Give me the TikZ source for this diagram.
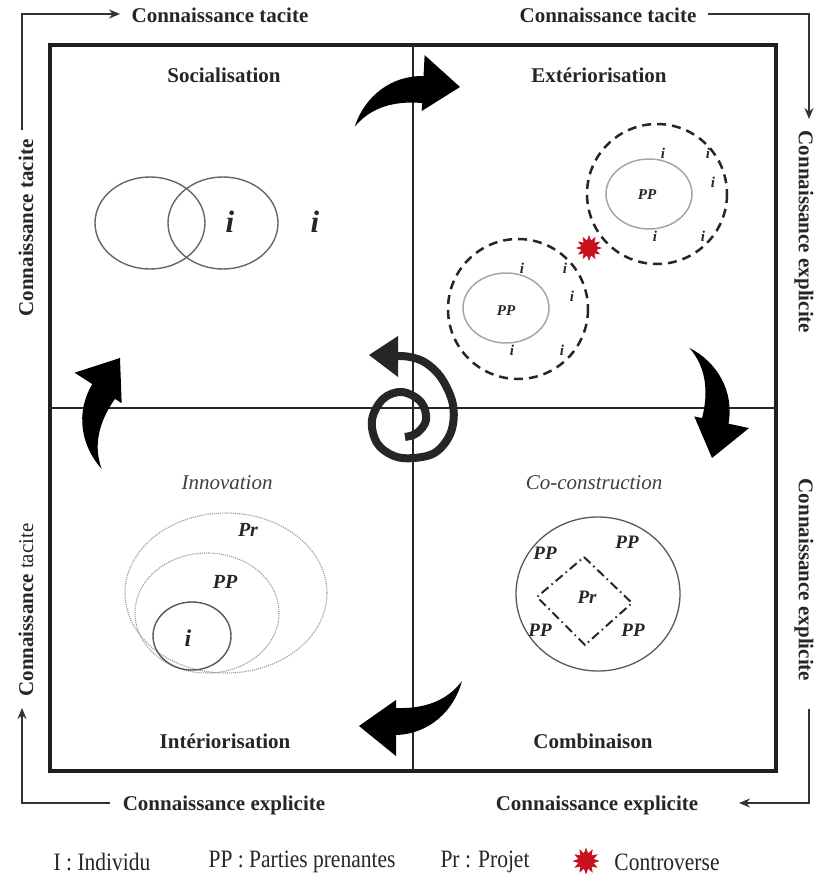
\documentclass[tikz,border=0pt]{standalone}
\usepackage{fontspec}
\setmainfont{Liberation Serif}
\usetikzlibrary{arrows.meta,shapes.geometric}
\definecolor{ctrred}{HTML}{C8101E}
\tikzset{
  framel/.style={line width=3.2pt, draw=black!88},
  divl/.style={line width=2.8pt, draw=black!85},
  sidearr/.style={line width=1.8pt, draw=black!80, -{Stealth[length=11pt,width=9pt]}},
  lbl/.style={font=\fontsize{21}{24}\selectfont\bfseries, text=black!85, inner sep=0pt},
  itl/.style={font=\fontsize{21}{24}\selectfont\itshape, text=black!75, inner sep=0pt},
  bi/.style={font=\bfseries\itshape, text=black!85, inner sep=0pt},
  leg/.style={font=\fontsize{25}{28}\selectfont, text=black!85, inner sep=0pt},
  dashc/.style={draw=black!85, line width=2.5pt, dash pattern=on 9pt off 6pt},
  inell/.style={draw=black!35, line width=1.5pt},
  gcirc/.style={draw=black!60, line width=1.4pt},
  dotell/.style={draw=black!40, line width=1.1pt, densely dotted},
  spiralst/.style={draw=black!85, line width=8pt},
  ctrstar/.style={star, star points=12, star point ratio=1.7, fill=ctrred, inner sep=0pt},
  curvearrow/.pic={\fill[black] (0,0) -- (-37,-30) -- (-37,-9) .. controls (-70,-8) and (-95,15) .. (-103,45) .. controls (-88,25) and (-65,17) .. (-37,18) -- (-37,26) -- cycle;}
}
\begin{document}
\begin{tikzpicture}[x=1pt,y=-1pt]
\useasboundingbox (0,0) rectangle (817,886);
\fill[white] (0,0) rectangle (817,886);

% frame
\draw[framel] (50,45) rectangle (776,771);
\draw[divl] (413,45) -- (413,771);
\draw[divl] (50,408) -- (776,408);

% side labels
\node[lbl, anchor=base] (tTL) at (220,22) {Connaissance tacite};
\node[lbl, anchor=base] (tTR) at (608,22) {Connaissance tacite};
\node[lbl, rotate=-90] (tR1) at (804,232) {Connaissance explicite};
\node[lbl, rotate=-90] (tR2) at (804,580) {Connaissance explicite};
\node[lbl, anchor=base] (tBR) at (597,810) {Connaissance explicite};
\node[lbl, anchor=base] (tBL) at (224,810) {Connaissance explicite};
\node[lbl, rotate=90] (tL1) at (26,228) {Connaissance tacite};
\node[lbl, rotate=90] (tL2) at (26,610) {Connaissance {\mdseries tacite}};

% side connectors
\coordinate (aTL) at (22,130);
\coordinate (aTLe) at (120,14);
\coordinate (aTRs) at (708,14);
\coordinate (aTR) at (809,119);
\coordinate (aBRs) at (809,709);
\coordinate (aBR) at (739,803);
\coordinate (aBLs) at (110,803);
\coordinate (aBL) at (22,708);
\draw[sidearr] (aTL) |- (aTLe);
\draw[sidearr] (aTRs) -| (aTR);
\draw[sidearr] (aBRs) |- (aBR);
\draw[sidearr] (aBLs) -| (aBL);

% quadrant titles
\node[lbl, anchor=base] (qSoc) at (224,82) {Socialisation};
\node[lbl, anchor=base] (qExt) at (599,82) {Extériorisation};
\node[itl, anchor=base] (qInn) at (227,489) {Innovation};
\node[itl, anchor=base] (qCoc) at (594,489) {Co-construction};
\node[lbl, anchor=base] (qInt) at (225,748) {Intériorisation};
\node[lbl, anchor=base] (qCom) at (593,748) {Combinaison};

% socialisation
\draw[gcirc] (150,223) ellipse[x radius=55, y radius=46];
\draw[gcirc] (223,223) ellipse[x radius=55, y radius=46];
\node[bi, font=\fontsize{31}{33}\selectfont\bfseries\itshape] (si1) at (230,222) {i};
\node[bi, font=\fontsize{31}{33}\selectfont\bfseries\itshape] (si2) at (315,222) {i};

% exteriorisation
\draw[dashc] (657,194) circle[radius=70];
\draw[dashc] (518,309) circle[radius=70];
\draw[inell] (649,194) ellipse[x radius=43, y radius=35];
\draw[inell] (506,308) ellipse[x radius=43, y radius=35];
\node[bi, font=\fontsize{15}{17}\selectfont\bfseries\itshape] (ePP1) at (647,195) {PP};
\node[bi, font=\fontsize{15}{17}\selectfont\bfseries\itshape] (ePP2) at (506,311) {PP};
\foreach \n/\p in {a/{(663,153)},b/{(708,153)},c/{(713,182)},d/{(655,236)},e/{(703,236)},
                   f/{(522,268)},g/{(565,268)},h/{(572,296)},k/{(512,350)},m/{(562,350)}}
  \node[bi, font=\fontsize{15}{17}\selectfont\bfseries\itshape] (ei\n) at \p {i};
\node[ctrstar, minimum size=26pt] (ctr) at (589,248) {};

% innovation
\draw[dotell] (226,593) ellipse[x radius=101, y radius=80];
\draw[dotell] (207,613) ellipse[x radius=72, y radius=60];
\draw[draw=black!65, line width=1.4pt] (192,636) ellipse[x radius=39, y radius=34];
\node[bi, font=\fontsize{20}{22}\selectfont\bfseries\itshape] (iPr) at (248,530) {Pr};
\node[bi, font=\fontsize{20}{22}\selectfont\bfseries\itshape] (iPP) at (225,582) {PP};
\node[bi, font=\fontsize{24}{26}\selectfont\bfseries\itshape] (ii) at (188,638) {i};

% co-construction
\draw[draw=black!65, line width=1.3pt] (598,594) ellipse[x radius=82, y radius=77];
\draw[draw=black!85, line width=2pt, dash pattern=on 9pt off 4pt on 1.5pt off 4pt]
  (584,557) -- (632,603) -- (585,645) -- (537,597) -- cycle;
\node[bi, font=\fontsize{19}{21}\selectfont\bfseries\itshape] (cPr) at (587,597) {Pr};
\node[bi, font=\fontsize{19}{21}\selectfont\bfseries\itshape] (cPP1) at (545,553) {PP};
\node[bi, font=\fontsize{19}{21}\selectfont\bfseries\itshape] (cPP2) at (627,542) {PP};
\node[bi, font=\fontsize{19}{21}\selectfont\bfseries\itshape] (cPP3) at (540,630) {PP};
\node[bi, font=\fontsize{19}{21}\selectfont\bfseries\itshape] (cPP4) at (633,630) {PP};

% big curved arrows
\pic[rotate=-3] at (460,87) {curvearrow};
\pic[rotate=-102] at (712,458) {curvearrow};
\pic[rotate=180] at (359,726) {curvearrow};
\pic[rotate=57] at (120,358) {curvearrow};

% central spiral
\draw[spiralst] plot[smooth, tension=0.6] coordinates {
  (405,437) (417,433) (426,420) (421,402) (402,392) (383,399) (372,420)
  (377,443) (394,456) (414,458) (436,452) (451,432) (453,405) (442,379)
  (426,363) (410,357) (397,356)};
\fill[black!85] (369,355) -- (398,336) -- (398,377) -- cycle;

% legend
\node[leg] (lg1) at (102,862) {\scalebox{0.86}[1]{I : Individu}};
\node[leg] (lg2) at (302,862) {\scalebox{0.86}[1]{PP : Parties prenantes}};
\node[leg] (lg3) at (485,862) {\scalebox{0.86}[1]{Pr : Projet}};
\node[ctrstar, minimum size=27pt] (lgstar) at (586,861) {};
\node[leg] (lg4) at (667,862) {\scalebox{0.86}[1]{Controverse}};
\end{tikzpicture}
\end{document}
